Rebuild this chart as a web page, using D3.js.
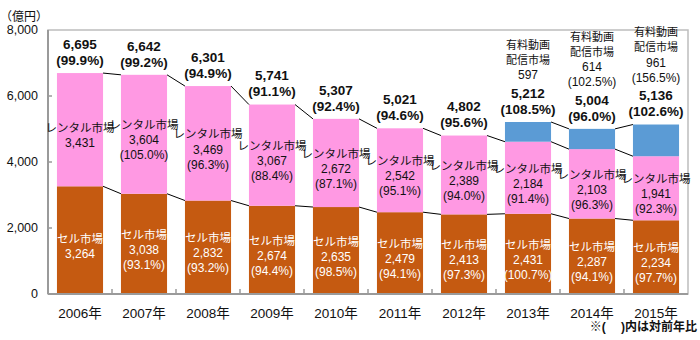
<!DOCTYPE html>
<html>
<head>
<meta charset="utf-8">
<script src="https://cdn.jsdelivr.net/npm/d3@7"></script>
<style>
  body { margin: 0; background: #fff; }
  svg { display: block; font-family: "Liberation Sans", Arial, "Noto Sans CJK JP", sans-serif; }
</style>
</head>
<body>
<svg id="chart" width="700" height="340"></svg>
<script>
"use strict";

// données (億円)
const years = ["2006年", "2007年", "2008年", "2009年", "2010年", "2011年", "2012年", "2013年", "2014年", "2015年"];
const sellValues = [3264, 3038, 2832, 2674, 2635, 2479, 2413, 2431, 2287, 2234];
const sellPct = [null, 93.1, 93.2, 94.4, 98.5, 94.1, 97.3, 100.7, 94.1, 97.7];
const rentalValues = [3431, 3604, 3469, 3067, 2672, 2542, 2389, 2184, 2103, 1941];
const rentalPct = [null, 105.0, 96.3, 88.4, 87.1, 95.1, 94.0, 91.4, 96.3, 92.3];
const streamValues = [null, null, null, null, null, null, null, 597, 614, 961];
const streamPct = [null, null, null, null, null, null, null, null, 102.5, 156.5];
const totalValues = [6695, 6642, 6301, 5741, 5307, 5021, 4802, 5212, 5004, 5136];
const totalPct = [99.9, 99.2, 94.9, 91.1, 92.4, 94.6, 95.6, 108.5, 96.0, 102.6];
const yTicks = [0, 2000, 4000, 6000, 8000];

const COLORS = { sell: "#C55A11", rental: "#FF99E3", stream: "#5B9BD5" };

const svg = d3.select("#chart");
const plot = { left: 48, right: 688, top: 30, bottom: 294 };

const x = d3.scaleBand()
    .domain(years)
    .range([plot.left, plot.right])
    .paddingInner(0.28)
    .paddingOuter(0.14);

const y = d3.scaleLinear()
    .domain([0, 8000])
    .range([plot.bottom, plot.top]);

const fmt = d3.format(",");
const fmtPct = v => `(${v.toFixed(1)}%)`;
const isJa = s => /[^\x00-\x7F]/.test(s);

// cadre de la zone de tracé
svg.append("rect")
    .attr("x", plot.left).attr("y", plot.top)
    .attr("width", plot.right - plot.left).attr("height", plot.bottom - plot.top)
    .attr("fill", "none").attr("stroke", "#bdbdbd").attr("stroke-width", 1.5);

// segments empilés
const rows = years.map((yr, i) => {
  const s = sellValues[i], r = rentalValues[i], st = streamValues[i] || 0;
  return { yr, i, segs: [
    { key: "sell", y0: 0, y1: s },
    { key: "rental", y0: s, y1: s + r },
    { key: "stream", y0: s + r, y1: s + r + st }
  ].filter(d => d.y1 > d.y0) };
});

const barG = svg.append("g");
rows.forEach(row => {
  barG.selectAll(null)
      .data(row.segs)
    .enter().append("rect")
      .attr("x", x(row.yr))
      .attr("width", x.bandwidth())
      .attr("y", d => y(d.y1))
      .attr("height", d => y(d.y0) - y(d.y1))
      .attr("fill", d => COLORS[d.key]);
});

// lignes de séries entre les barres
const cumSell = sellValues;
const cumRental = sellValues.map((v, i) => v + rentalValues[i]);
const cumStream = streamValues.map((v, i) => v == null ? null : cumRental[i] + v);
const lineG = svg.append("g").attr("stroke", "#000").attr("stroke-width", 1);
[cumSell, cumRental, cumStream].forEach(arr => {
  for (let i = 0; i < years.length - 1; i++) {
    if (arr[i] == null || arr[i + 1] == null) continue;
    lineG.append("line")
        .attr("x1", x(years[i]) + x.bandwidth()).attr("y1", y(arr[i]))
        .attr("x2", x(years[i + 1])).attr("y2", y(arr[i + 1]));
  }
});

// axes
const axisColor = "#9a9a9a";
svg.append("line")
    .attr("x1", plot.left).attr("x2", plot.left)
    .attr("y1", plot.top).attr("y2", plot.bottom)
    .attr("stroke", axisColor).attr("stroke-width", 2);
svg.append("line")
    .attr("x1", plot.left).attr("x2", plot.right)
    .attr("y1", plot.bottom).attr("y2", plot.bottom)
    .attr("stroke", axisColor).attr("stroke-width", 2);

svg.append("g").selectAll("line")
    .data(yTicks.slice(1, -1))
  .enter().append("line")
    .attr("x1", plot.left).attr("x2", plot.left + 4)
    .attr("y1", d => y(d)).attr("y2", d => y(d))
    .attr("stroke", axisColor).attr("stroke-width", 1.5);

svg.append("g").selectAll("text")
    .data(yTicks)
  .enter().append("text")
    .attr("x", 38).attr("y", d => y(d))
    .attr("dy", "0.35em")
    .attr("text-anchor", "end")
    .attr("font-size", 12.5)
    .attr("fill", "#111")
    .text(d => fmt(d));

svg.append("g").selectAll("line")
    .data(years.slice(1))
  .enter().append("line")
    .attr("x1", d => x(d) - x.step() * x.paddingInner() / 2)
    .attr("x2", d => x(d) - x.step() * x.paddingInner() / 2)
    .attr("y1", plot.bottom - 5).attr("y2", plot.bottom)
    .attr("stroke", axisColor).attr("stroke-width", 1.5);

svg.append("g").selectAll("text")
    .data(years)
  .enter().append("text")
    .attr("x", d => x(d) + x.bandwidth() / 2)
    .attr("y", 313).attr("dy", "0.35em")
    .attr("text-anchor", "middle")
    .attr("font-size", 13.5)
    .attr("fill", "#111")
    .text(d => d);

svg.append("text")
    .attr("x", 48).attr("y", 17).attr("dy", "0.35em")
    .attr("text-anchor", "end")
    .attr("font-size", 12)
    .attr("fill", "#111")
    .text("（億円）");

svg.append("text")
    .attr("x", 697).attr("y", 327).attr("dy", "0.35em")
    .attr("text-anchor", "end")
    .attr("font-size", 12)
    .attr("font-weight", "bold")
    .attr("fill", "#111")
    .text("※(　 )内は対前年比");

// étiquettes à plusieurs lignes
function drawLines(cx, cy, lines, opts) {
  const step = opts.step || 15;
  const y0 = cy - (lines.length - 1) * step / 2;
  lines.forEach((t, k) => {
    svg.append("text")
        .attr("x", cx).attr("y", y0 + k * step).attr("dy", "0.35em")
        .attr("text-anchor", "middle")
        .attr("font-size", isJa(t) ? (opts.jaSize || 11.5) : (opts.size || 12))
        .attr("font-weight", opts.bold ? "bold" : "normal")
        .attr("fill", opts.color || "#111")
        .text(t);
  });
}

years.forEach((yr, i) => {
  const cx = x(yr) + x.bandwidth() / 2;

  const sellLines = ["セル市場", fmt(sellValues[i])];
  if (sellPct[i] != null) sellLines.push(fmtPct(sellPct[i]));
  drawLines(cx, (y(0) + y(cumSell[i])) / 2 + 6, sellLines, { color: "#fff" });

  const rentLines = ["レンタル市場", fmt(rentalValues[i])];
  if (rentalPct[i] != null) rentLines.push(fmtPct(rentalPct[i]));
  drawLines(cx, (y(cumSell[i]) + y(cumRental[i])) / 2 + 6, rentLines, {});

  const top = y(totalValues[i]);
  drawLines(cx, top - 21, [fmt(totalValues[i]), fmtPct(totalPct[i])],
      { bold: true, size: 13.5, step: 16 });

  if (streamValues[i] != null) {
    const sLines = ["有料動画", "配信市場", fmt(streamValues[i])];
    if (streamPct[i] != null) sLines.push(fmtPct(streamPct[i]));
    const last = top - 47;
    drawLines(cx, last - (sLines.length - 1) * 15 / 2, sLines, { jaSize: 11 });
  }
});
</script>
</body>
</html>
